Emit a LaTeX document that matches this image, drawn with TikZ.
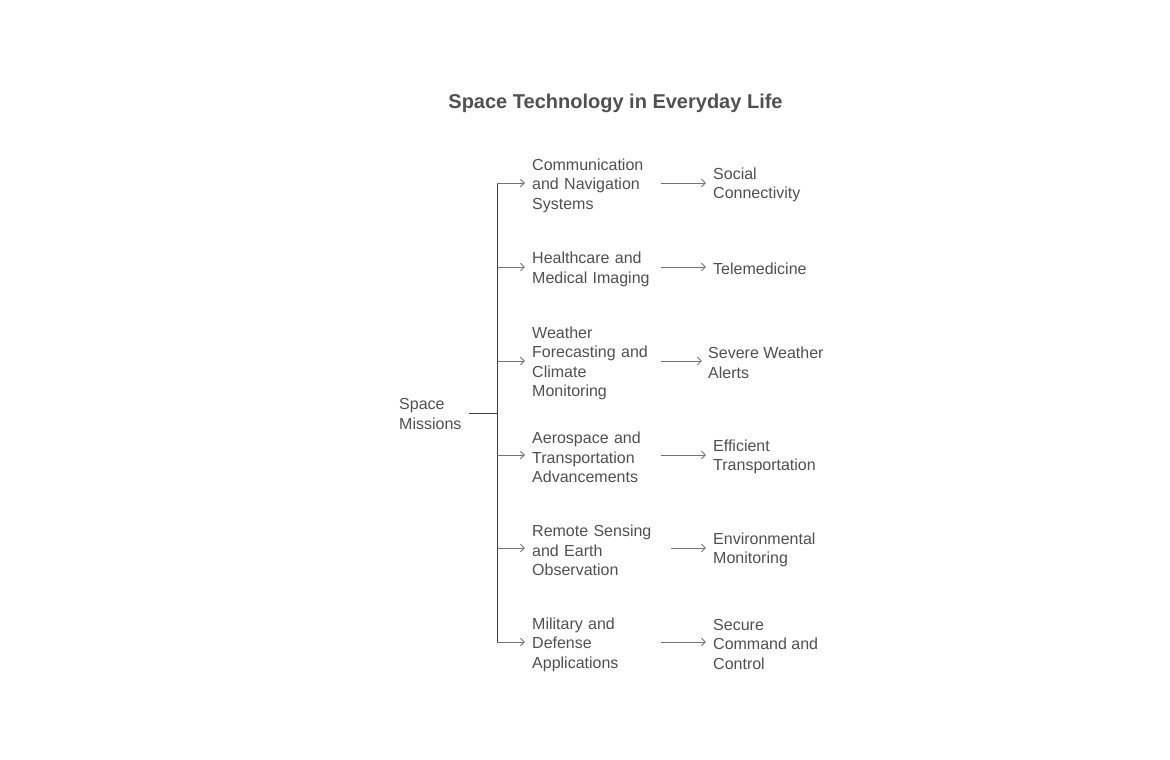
\documentclass[tikz,border=0pt]{standalone}
\usepackage{fontspec}
\setmainfont{Liberation Sans}
\usepackage{tikz}
\usetikzlibrary{arrows.meta}
\definecolor{txtgray}{HTML}{505050}
\definecolor{trunkgray}{HTML}{404040}
\definecolor{linkgray}{HTML}{747474}
\begin{document}
\begin{tikzpicture}[x=1pt,y=-1pt]
\tikzstyle{every node}+=[inner sep=0pt, text=txtgray, font=\fontsize{16}{19.5}\selectfont]
\tikzstyle{mid}=[anchor=west, align=left, text width=120pt, yshift=-2.5pt]
\tikzstyle{leaf}=[anchor=west, align=left, yshift=-2pt]
\tikzstyle{link}=[linkgray, line width=0.85pt, -{Straight Barb[length=4pt,width=7.5pt]}]
\useasboundingbox (0,0) rectangle (1170,760);
\draw (615.5,101) node[font=\fontsize{20}{24}\bfseries, text=txtgray, yshift=-2pt] (title) {Space Technology in Everyday Life};
\draw (399,413) node[leaf, yshift=1pt] (root) {Space\\Missions};
\coordinate (j) at (497,413);
\coordinate (b1) at (497,183);
\coordinate (b2) at (497,267);
\coordinate (b3) at (497,361);
\coordinate (b4) at (497,455);
\coordinate (b5) at (497,548);
\coordinate (b6) at (497,642);
\draw (532,183) node[mid] (c1) {Communication\\and Navigation\\Systems};
\draw (532,267) node[mid] (c2) {Healthcare and\\Medical Imaging};
\draw (532,361) node[mid] (c3) {Weather\\Forecasting and\\Climate\\Monitoring};
\draw (532,455) node[mid] (c4) {Aerospace and\\Transportation\\Advancements};
\draw (532,548) node[mid] (c5) {Remote Sensing\\and Earth\\Observation};
\draw (532,642) node[mid] (c6) {Military and\\Defense\\Applications};
\draw (713,183) node[leaf] (r1) {Social\\Connectivity};
\draw (713,267) node[leaf] (r2) {Telemedicine};
\draw (708,361) node[leaf] (r3) {Severe Weather\\Alerts};
\draw (713,455) node[leaf] (r4) {Efficient\\Transportation};
\draw (713,548) node[leaf] (r5) {Environmental\\Monitoring};
\draw (713,642) node[leaf] (r6) {Secure\\Command and\\Control};
\draw [trunkgray, line width=0.9pt, shorten <=7pt] (root.east |- j) -- (j);
\draw [trunkgray, line width=0.9pt] (b1) -- (b6);
\draw [link, shorten >=7pt] (b1) -- (b1 -| c1.west);
\draw [link, shorten >=7pt] (b2) -- (b2 -| c2.west);
\draw [link, shorten >=7pt] (b3) -- (b3 -| c3.west);
\draw [link, shorten >=7pt] (b4) -- (b4 -| c4.west);
\draw [link, shorten >=7pt] (b5) -- (b5 -| c5.west);
\draw [link, shorten >=7pt] (b6) -- (b6 -| c6.west);
\draw [link, shorten <=9pt, shorten >=7pt] (b1 -| c1.east) -- (b1 -| r1.west);
\draw [link, shorten <=9pt, shorten >=7pt] (b2 -| c2.east) -- (b2 -| r2.west);
\draw [link, shorten <=9pt, shorten >=6pt] (b3 -| c3.east) -- (b3 -| r3.west);
\draw [link, shorten <=9pt, shorten >=7pt] (b4 -| c4.east) -- (b4 -| r4.west);
\draw [link, shorten <=19pt, shorten >=7pt] (b5 -| c5.east) -- (b5 -| r5.west);
\draw [link, shorten <=9pt, shorten >=7pt] (b6 -| c6.east) -- (b6 -| r6.west);
\end{tikzpicture}
\end{document}
